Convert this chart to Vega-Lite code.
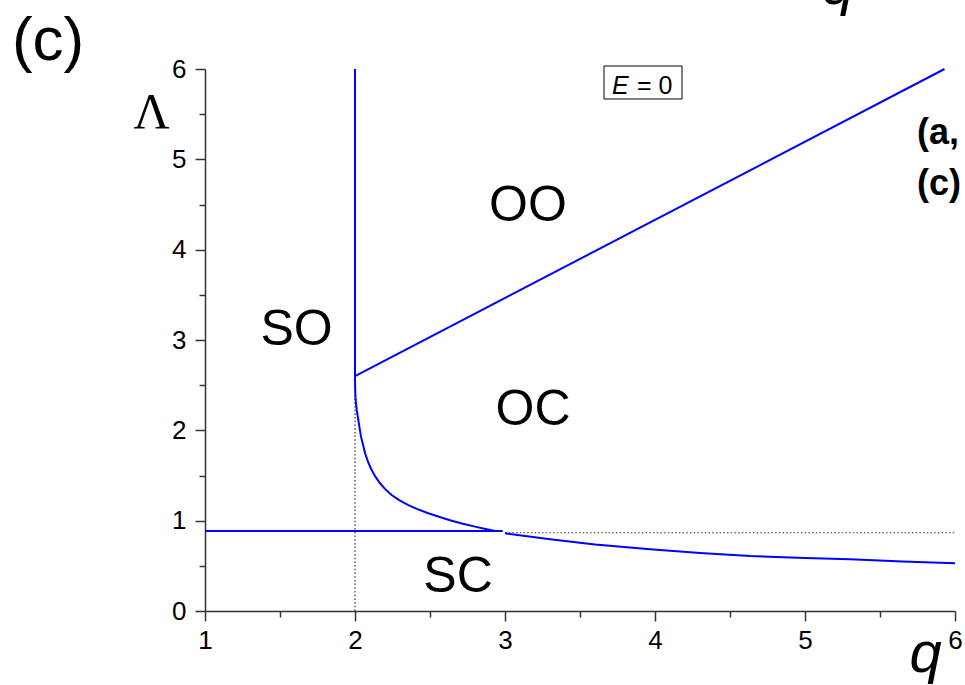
{
  "$schema": "https://vega.github.io/schema/vega-lite/v6.json",
  "width": 750,
  "height": 542,
  "autosize": {"type": "none"},
  "padding": {"left": 205, "top": 69, "right": 10, "bottom": 74},
  "background": "white",
  "config": {
    "view": {"stroke": null},
    "font": "Liberation Sans",
    "axis": {
      "grid": false,
      "domainColor": "#333333",
      "domainWidth": 1.5,
      "tickColor": "#333333",
      "tickWidth": 1.5,
      "labelColor": "black",
      "labelFont": "Liberation Sans",
      "labelFontSize": 26
    }
  },
  "datasets": {
    "boundaries": [
      {"series": "vertical", "i": 0, "q": 2.0, "L": 2.6},
      {"series": "vertical", "i": 1, "q": 2.0, "L": 6.0},
      {"series": "diagonal", "i": 0, "q": 2.0, "L": 2.6},
      {"series": "diagonal", "i": 1, "q": 5.93, "L": 6.0},
      {"series": "horizontal", "i": 0, "q": 1.0, "L": 0.886},
      {"series": "horizontal", "i": 1, "q": 2.985, "L": 0.886},
      {"series": "curve1", "i": 0, "q": 2.0, "L": 2.6},
      {"series": "curve1", "i": 1, "q": 2.001, "L": 2.47},
      {"series": "curve1", "i": 2, "q": 2.004, "L": 2.336},
      {"series": "curve1", "i": 3, "q": 2.012, "L": 2.22},
      {"series": "curve1", "i": 4, "q": 2.022, "L": 2.115},
      {"series": "curve1", "i": 5, "q": 2.04, "L": 1.93},
      {"series": "curve1", "i": 6, "q": 2.067, "L": 1.746},
      {"series": "curve1", "i": 7, "q": 2.087, "L": 1.65},
      {"series": "curve1", "i": 8, "q": 2.111, "L": 1.561},
      {"series": "curve1", "i": 9, "q": 2.137, "L": 1.484},
      {"series": "curve1", "i": 10, "q": 2.167, "L": 1.414},
      {"series": "curve1", "i": 11, "q": 2.203, "L": 1.346},
      {"series": "curve1", "i": 12, "q": 2.244, "L": 1.284},
      {"series": "curve1", "i": 13, "q": 2.297, "L": 1.225},
      {"series": "curve1", "i": 14, "q": 2.356, "L": 1.173},
      {"series": "curve1", "i": 15, "q": 2.42, "L": 1.125},
      {"series": "curve1", "i": 16, "q": 2.489, "L": 1.082},
      {"series": "curve1", "i": 17, "q": 2.565, "L": 1.04},
      {"series": "curve1", "i": 18, "q": 2.644, "L": 1.0},
      {"series": "curve1", "i": 19, "q": 2.72, "L": 0.966},
      {"series": "curve1", "i": 20, "q": 2.8, "L": 0.934},
      {"series": "curve1", "i": 21, "q": 2.87, "L": 0.908},
      {"series": "curve1", "i": 22, "q": 2.933, "L": 0.886},
      {"series": "curve2", "i": 0, "q": 3.0, "L": 0.86},
      {"series": "curve2", "i": 1, "q": 3.3, "L": 0.794},
      {"series": "curve2", "i": 2, "q": 3.6, "L": 0.735},
      {"series": "curve2", "i": 3, "q": 3.967, "L": 0.683},
      {"series": "curve2", "i": 4, "q": 4.3, "L": 0.643},
      {"series": "curve2", "i": 5, "q": 4.633, "L": 0.609},
      {"series": "curve2", "i": 6, "q": 5.0, "L": 0.587},
      {"series": "curve2", "i": 7, "q": 5.3, "L": 0.572},
      {"series": "curve2", "i": 8, "q": 5.65, "L": 0.549},
      {"series": "curve2", "i": 9, "q": 6.0, "L": 0.528}
    ],
    "guides": [
      {"series": "q2", "i": 0, "q": 2.0, "L": 0.0},
      {"series": "q2", "i": 1, "q": 2.0, "L": 2.5},
      {"series": "level", "i": 0, "q": 3.0, "L": 0.866},
      {"series": "level", "i": 1, "q": 6.0, "L": 0.866}
    ],
    "regions": [
      {"label": "OO", "q": 3.153, "L": 4.317},
      {"label": "SO", "q": 1.61, "L": 2.945},
      {"label": "OC", "q": 3.187, "L": 2.06},
      {"label": "SC", "q": 2.687, "L": 0.21}
    ],
    "energyBox": [
      {"q1": 3.66, "q2": 4.18, "L1": 5.668, "L2": 6.033}
    ],
    "energyItalic": [
      {"text": "E", "q": 3.713, "L": 5.723}
    ],
    "energyRest": [
      {"text": "= 0", "q": 3.88, "L": 5.723}
    ],
    "panelTag": [
      {"text": "(c)", "q": -0.287, "L": 6.1}
    ],
    "sideTags": [
      {"text": "(a,", "q": 5.747, "L": 5.17},
      {"text": "(c)", "q": 5.747, "L": 4.6}
    ],
    "topSymbol": [
      {"text": "q", "q": 5.22, "L": 6.72}
    ]
  },
  "layer": [
    {
      "data": {"name": "guides"},
      "mark": {"type": "line", "color": "#333333", "strokeWidth": 1.2, "strokeDash": [1.5, 2.2]},
      "encoding": {
        "x": {
          "field": "q", "type": "quantitative",
          "scale": {"domain": [1, 6], "nice": false, "zero": false},
          "axis": {
            "orient": "bottom", "values": [1.5, 2.5, 3.5, 4.5, 5.5],
            "tickSize": 6, "labels": false, "domain": false, "title": null
          }
        },
        "y": {
          "field": "L", "type": "quantitative",
          "scale": {"domain": [0, 6], "nice": false, "zero": false},
          "axis": {
            "orient": "left", "values": [0.5, 1.5, 2.5, 3.5, 4.5, 5.5],
            "tickSize": 6, "labels": false, "domain": false, "title": null
          }
        },
        "detail": {"field": "series"},
        "order": {"field": "i"}
      }
    },
    {
      "data": {"name": "boundaries"},
      "mark": {"type": "line", "color": "#0000ff", "strokeWidth": 2},
      "encoding": {
        "x": {
          "field": "q", "type": "quantitative",
          "axis": {
            "orient": "bottom", "values": [1, 2, 3, 4, 5, 6], "format": "d",
            "tickSize": 10, "labelPadding": 6, "labelFlush": false, "labelFontSize": 26,
            "title": "q", "titleFont": "Liberation Sans", "titleFontStyle": "italic",
            "titleFontWeight": "normal", "titleFontSize": 58, "titleColor": "black",
            "titleX": 720, "titleY": 60, "titleAlign": "center", "titleBaseline": "alphabetic"
          }
        },
        "y": {
          "field": "L", "type": "quantitative",
          "axis": {
            "orient": "left", "values": [0, 1, 2, 3, 4, 5, 6], "format": "d",
            "tickSize": 10, "labelPadding": 9, "labelFlush": false, "labelFontSize": 26,
            "title": "Λ", "titleFont": "Liberation Serif", "titleFontWeight": "normal",
            "titleFontSize": 50, "titleColor": "black", "titleAngle": 0,
            "titleX": -54, "titleY": 58, "titleAlign": "center", "titleBaseline": "alphabetic"
          }
        },
        "detail": {"field": "series"},
        "order": {"field": "i"}
      }
    },
    {
      "data": {"name": "regions"},
      "mark": {"type": "text", "fontSize": 50, "align": "center", "baseline": "alphabetic", "color": "black"},
      "encoding": {
        "x": {"field": "q", "type": "quantitative", "axis": null},
        "y": {"field": "L", "type": "quantitative", "axis": null},
        "text": {"field": "label"}
      }
    },
    {
      "data": {"name": "energyBox"},
      "mark": {"type": "rect", "fill": "white", "stroke": "black", "strokeWidth": 1},
      "encoding": {
        "x": {"field": "q1", "type": "quantitative", "axis": null},
        "x2": {"field": "q2"},
        "y": {"field": "L1", "type": "quantitative", "axis": null},
        "y2": {"field": "L2"}
      }
    },
    {
      "data": {"name": "energyItalic"},
      "mark": {"type": "text", "fontSize": 25, "fontStyle": "italic", "align": "left", "baseline": "alphabetic", "color": "black"},
      "encoding": {
        "x": {"field": "q", "type": "quantitative", "axis": null},
        "y": {"field": "L", "type": "quantitative", "axis": null},
        "text": {"field": "text"}
      }
    },
    {
      "data": {"name": "energyRest"},
      "mark": {"type": "text", "fontSize": 25, "align": "left", "baseline": "alphabetic", "color": "black"},
      "encoding": {
        "x": {"field": "q", "type": "quantitative", "axis": null},
        "y": {"field": "L", "type": "quantitative", "axis": null},
        "text": {"field": "text"}
      }
    },
    {
      "data": {"name": "panelTag"},
      "mark": {"type": "text", "fontSize": 62, "align": "left", "baseline": "alphabetic", "color": "black"},
      "encoding": {
        "x": {"field": "q", "type": "quantitative", "axis": null},
        "y": {"field": "L", "type": "quantitative", "axis": null},
        "text": {"field": "text"}
      }
    },
    {
      "data": {"name": "sideTags"},
      "mark": {"type": "text", "fontSize": 36, "fontWeight": "bold", "align": "left", "baseline": "alphabetic", "color": "black"},
      "encoding": {
        "x": {"field": "q", "type": "quantitative", "axis": null},
        "y": {"field": "L", "type": "quantitative", "axis": null},
        "text": {"field": "text"}
      }
    },
    {
      "data": {"name": "topSymbol"},
      "mark": {"type": "text", "fontSize": 58, "fontStyle": "italic", "align": "center", "baseline": "alphabetic", "color": "black"},
      "encoding": {
        "x": {"field": "q", "type": "quantitative", "axis": null},
        "y": {"field": "L", "type": "quantitative", "axis": null},
        "text": {"field": "text"}
      }
    }
  ],
  "resolve": {"axis": {"x": "independent", "y": "independent"}}
}
